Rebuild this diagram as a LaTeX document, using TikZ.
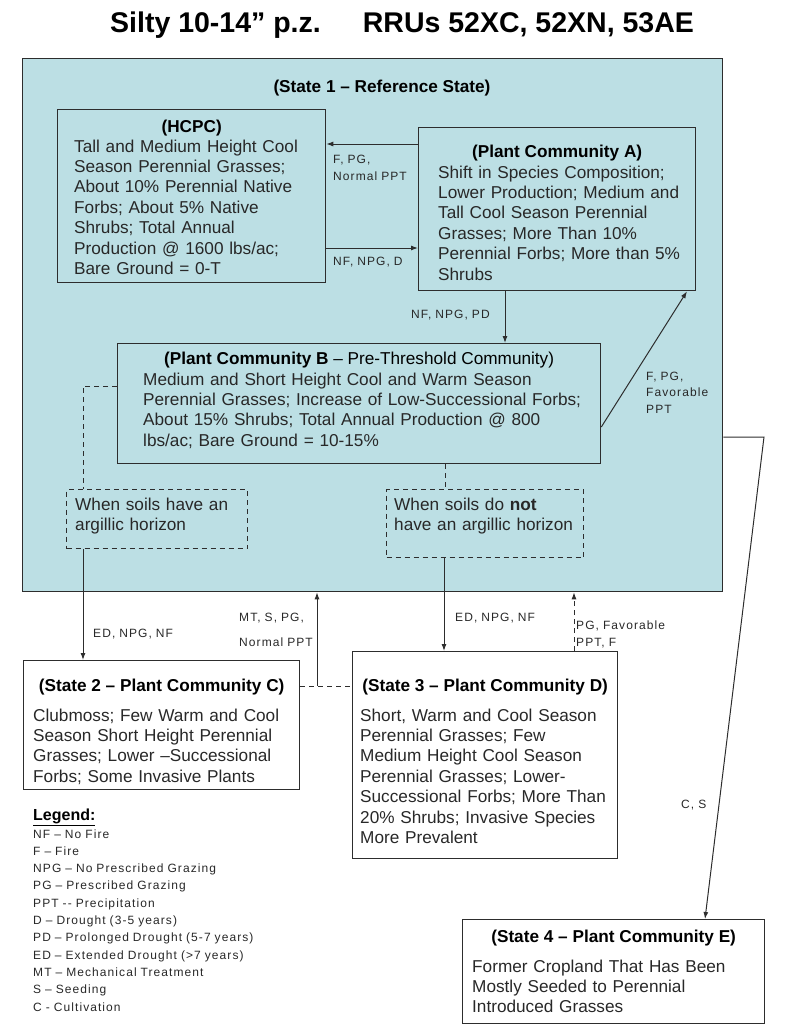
\documentclass[tikz,border=0pt]{standalone}
\usepackage{fontspec}
\setmainfont{Liberation Sans}
\newfontfamily\lblfont[LetterSpace=9]{Liberation Sans}
\newcommand\bodyfont{\fontsize{17.2}{20.4}\selectfont}
\newcommand\smallfont{\lblfont\fontsize{12}{17}\selectfont}
\definecolor{statefill}{RGB}{188,223,228}
\definecolor{linegray}{RGB}{45,45,45}
\definecolor{txtgray}{RGB}{40,40,40}
\usetikzlibrary{arrows.meta}

\begin{document}
\begin{tikzpicture}[x=1pt,y=-1pt,
  box/.style={draw=linegray, line width=1.3pt, anchor=north west, inner sep=0pt},
  dashbox/.style={box, dash pattern=on 5pt off 4pt},
  head/.style={anchor=base, inner sep=0pt, font=\bodyfont\bfseries, text=black},
  body/.style={anchor=base west, inner sep=0pt, text width=460pt, align=left, font=\bodyfont, text=txtgray},
  lbl/.style={anchor=base west, inner sep=0pt, text width=140pt, align=left, font=\smallfont, text=txtgray},
  arr/.style={draw=linegray, line width=1pt, -{Latex[length=7pt,width=5pt]}},
  dashline/.style={draw=linegray, line width=1pt, dash pattern=on 5pt off 4pt}]
\useasboundingbox (0,0) rectangle (800,1029);
\node[anchor=base west, inner sep=0pt, font=\fontsize{28.5}{34}\selectfont\bfseries] (title) at (110,32)
  {Silty 10-14” p.z.\hspace{42pt}RRUs 52XC, 52XN, 53AE};

% state 1
\node[box, fill=statefill, minimum width=700pt, minimum height=533pt] (s1) at (22,58) {};
\node[head] (s1-h) at (382,92) {(State 1 – Reference State)};

\node[box, minimum width=268pt, minimum height=173pt] (hcpc) at (57,109) {};
\node[head] (hcpc-h) at (hcpc.north |- 0,132) {(HCPC)};
\node[body] (hcpc-t) at (74,152) {Tall and Medium Height Cool\\ Season Perennial Grasses;\\
  About 10\% Perennial Native\\ Forbs; About 5\% Native\\ Shrubs; Total Annual\\
  Production @ 1600 lbs/ac;\\ Bare Ground = 0-T};

\node[box, minimum width=277pt, minimum height=163pt] (a) at (418,127) {};
\node[head] (a-h) at (a.north |- 0,157) {(Plant Community A)};
\node[body] (a-t) at (438,178) {Shift in Species Composition;\\ Lower Production; Medium and\\
  Tall Cool Season Perennial\\ Grasses; More Than 10\%\\ Perennial Forbs; More than 5\%\\ Shrubs};

\node[box, minimum width=483pt, minimum height=120pt] (b) at (117,343) {};
\node[head] (b-h) at (b.north |- 0,364) {(Plant Community B {\mdseries – Pre-Threshold Community)}};
\node[body] (b-t) at (143,385) {Medium and Short Height Cool and Warm Season\\
  Perennial Grasses; Increase of Low-Successional Forbs;\\
  About 15\% Shrubs; Total Annual Production @ 800\\ lbs/ac; Bare Ground = 10-15\%};

\node[dashbox, minimum width=181pt, minimum height=59pt] (d1) at (66,489) {};
\node[body] (d1-t) at (75,510) {When soils have an\\ argillic horizon};
\node[dashbox, minimum width=197pt, minimum height=68pt] (d2) at (386,489) {};
\node[body] (d2-t) at (394,510) {When soils do \textbf{not}\\ have an argillic horizon};

% other states
\node[box, minimum width=276pt, minimum height=129pt] (s2) at (23,660) {};
\node[head] (s2-h) at (s2.north |- 0,691) {(State 2 – Plant Community C)};
\node[body] (s2-t) at (33,721) {Clubmoss; Few Warm and Cool\\ Season Short Height Perennial\\
  Grasses; Lower –Successional\\ Forbs; Some Invasive Plants};

\node[box, minimum width=265pt, minimum height=207pt] (s3) at (352,651) {};
\node[head] (s3-h) at (s3.north |- 0,691) {(State 3 – Plant Community D)};
\node[body] (s3-t) at (360,721) {Short, Warm and Cool Season\\ Perennial Grasses; Few\\
  Medium Height Cool Season\\ Perennial Grasses; Lower-\\ Successional Forbs; More Than\\
  20\% Shrubs; Invasive Species\\ More Prevalent};

\node[box, minimum width=302pt, minimum height=104pt] (s4) at (462,919) {};
\node[head] (s4-h) at (s4.north |- 0,942) {(State 4 – Plant Community E)};
\node[body] (s4-t) at (472,972) {Former Cropland That Has Been\\ Mostly Seeded to Perennial\\
  Introduced Grasses};

% transitions
\draw[arr] (a.west |- 0,144) -- (hcpc.east |- 0,144);
\node[lbl] (l-fpg) at (333,163) {F, PG,\\ Normal PPT};
\draw[arr] (hcpc.east |- 0,248) -- (a.west |- 0,248);
\node[lbl] (l-nfd) at (333,265) {NF, NPG, D};
\draw[arr] (505,0 |- a.south) -- (505,0 |- b.north);
\node[lbl] (l-nfpd) at (411,318) {NF, NPG, PD};
\draw[arr] (b.east |- 0,427) -- (a.south -| 687,0);
\node[lbl] (l-fav) at (646,380) {F, PG,\\[-0.5pt] Favorable\\[-0.5pt] PPT};

\draw[dashline] (b.west |- 0,386) -| (83,0 |- d1.north);
\draw[dashline] (445,0 |- b.south) -- (445,0 |- d2.north);
\draw[arr] (83,0 |- d1.south) -- (83,0 |- s2.north);
\node[lbl] (l-ed1) at (93,637) {ED, NPG, NF};
\draw[arr] (444,0 |- d2.south) -- (444,0 |- s3.north);
\node[lbl] (l-ed2) at (455,621) {ED, NPG, NF};

\draw[dashline] (s2.east |- 0,686) -- (s3.west |- 0,686);
\coordinate (split) at (317,686);
\draw[arr] (split) -- (split |- s1.south);
\node[lbl] (l-mt) at (239,621) {MT, S, PG,\\[8pt] Normal PPT};
\draw[arr, dashline] (574,0 |- s3.north) -- (574,0 |- s1.south);
\node[lbl] (l-pg) at (576,629) {PG, Favorable\\ PPT, F};

\coordinate (bend) at (764,437);
\draw[arr] (s1.east |- 0,437) -- (bend) -- (s4.north -| 705,0);
\node[lbl] (l-cs) at (681,808) {C, S};

% legend
\node[anchor=base west, inner sep=0pt, font=\fontsize{16}{18}\selectfont\bfseries] (legend-h) at (33,820) {\underline{Legend:}};
\node[lbl, text width=260pt, font=\lblfont\fontsize{12}{17.3}\selectfont] (legend) at (33,838) {NF – No Fire\\ F – Fire\\
  NPG – No Prescribed Grazing\\ PG – Prescribed Grazing\\ PPT -{}- Precipitation\\
  D – Drought (3-5 years)\\ PD – Prolonged Drought (5-7 years)\\ ED – Extended Drought (>7 years)\\
  MT – Mechanical Treatment\\ S – Seeding\\ C - Cultivation};
\end{tikzpicture}
\end{document}
